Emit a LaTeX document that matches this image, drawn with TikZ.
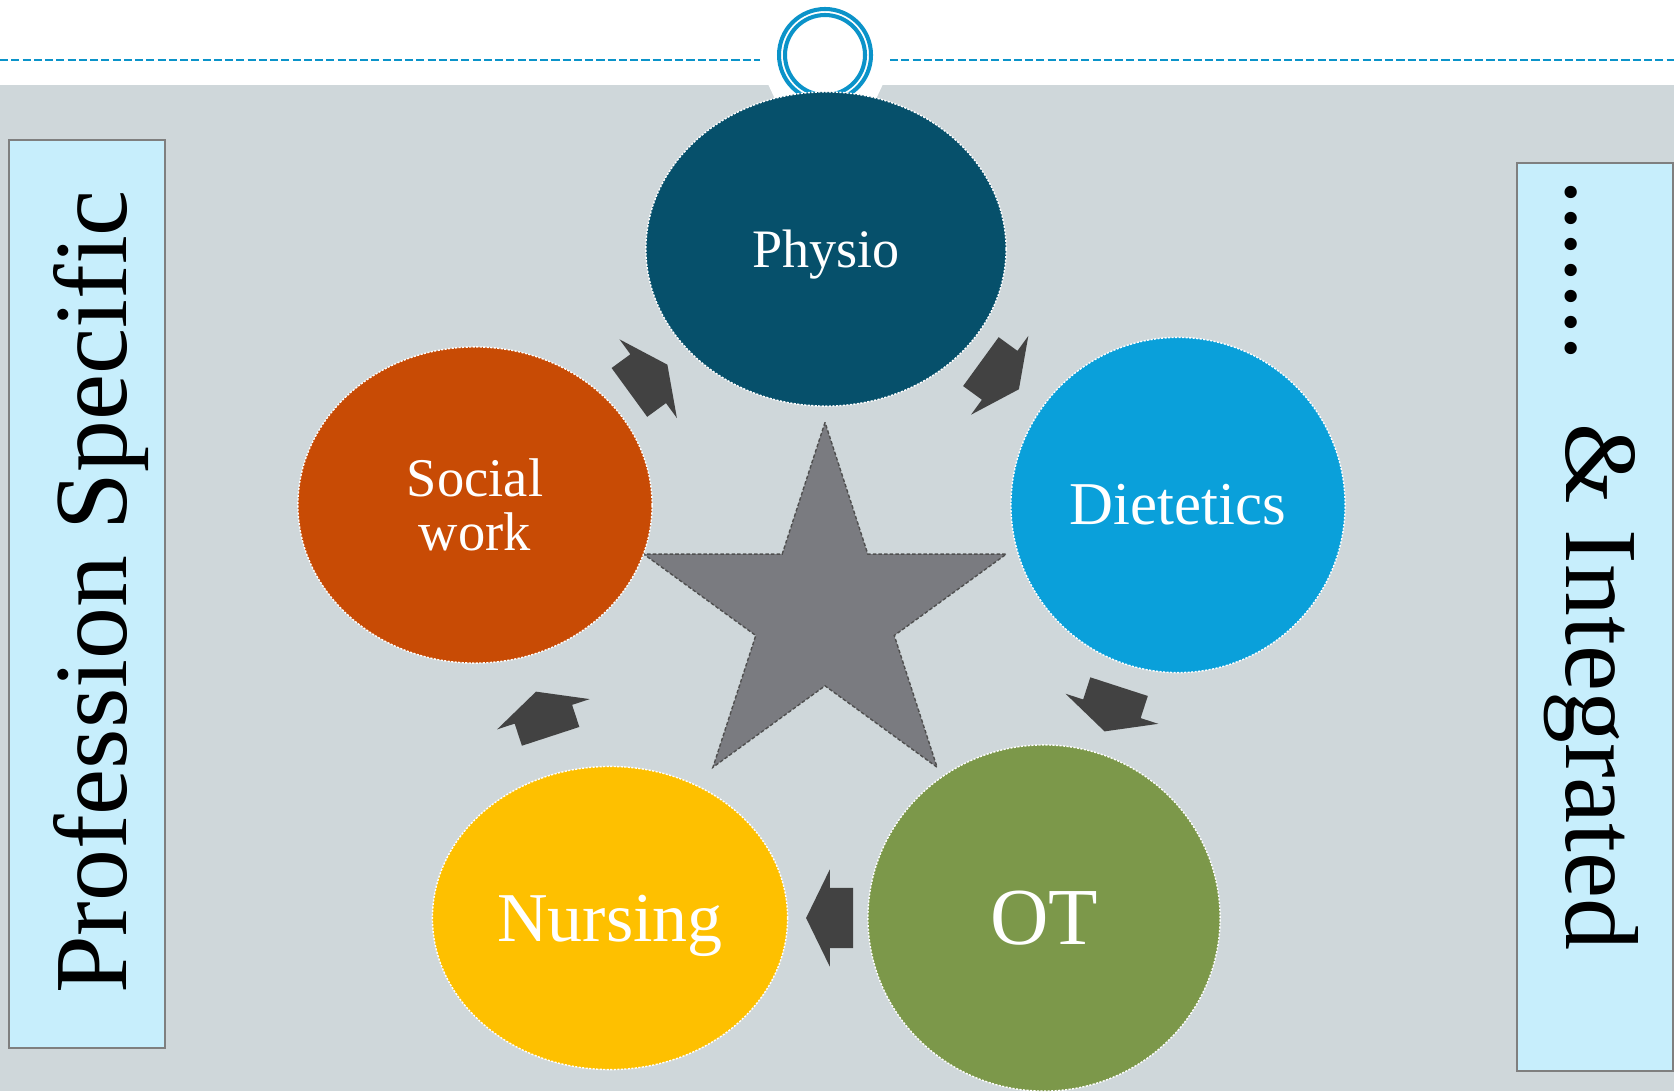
\documentclass[tikz,border=0pt]{standalone}
\usepackage{fontspec}
\setmainfont{Liberation Serif}
\usetikzlibrary{shapes.geometric,shapes.arrows}

\definecolor{bggray}{HTML}{CFD7DA}
\definecolor{ringblue}{HTML}{0B93C9}
\definecolor{boxcyan}{HTML}{C7EEFC}
\definecolor{boxedge}{HTML}{7F7F7F}
\definecolor{arrowgray}{HTML}{424242}
\definecolor{stargray}{HTML}{7A7B80}
\definecolor{staredge}{HTML}{4F4F4F}
\definecolor{physiocol}{HTML}{06506B}
\definecolor{dietcol}{HTML}{0AA0DA}
\definecolor{otcol}{HTML}{7C984A}
\definecolor{nursingcol}{HTML}{FEC000}
\definecolor{socialcol}{HTML}{C84B05}

\tikzset{
  team/.style={ellipse, inner sep=0pt, draw=white, line width=0.4pt, dash pattern=on 0.6pt off 0.4pt, text=white, align=center},
  flow/.style={single arrow, fill=arrowgray, inner sep=0pt, text height=0.295cm, text depth=0.295cm, minimum height=0.47cm, single arrow head extend=0.185cm, single arrow tip angle=128, pos=0.477, sloped, allow upside down},
  sidebox/.style={fill=boxcyan, draw=boxedge, line width=0.5pt, inner sep=0pt, minimum width=1.56cm, minimum height=9.08cm},
  sidetext/.style={anchor=base, inner sep=0pt, font=\fontsize{29.5}{34}\selectfont},
  topline/.style={ringblue, line width=0.5pt, dash pattern=on 2.3pt off 0.9pt},
}

\begin{document}
\begin{tikzpicture}[x=0.01cm, y=-0.01cm]
    \useasboundingbox[fill=white] (0,0) rectangle (1674,1091);
    \fill[bggray] (0,85) rectangle (1674,1091);
    \fill[white] (768,84) -- (883,84) -- (869,114) -- (782,114) -- cycle;
    \draw[topline] (0,60) -- (760,60);
    \draw[topline] (890,60) -- (1674,60);
    \draw[ringblue, line width=1.15pt] (825,55) circle (46);
    \draw[ringblue, line width=1.15pt] (825,55) circle (40);

    \node[sidebox] (leftbox) at (87,594) {};
    \node[sidebox] (rightbox) at (1595,617) {};
    \node[sidetext, rotate=90] (proftext) at (126,592) {Profession Specific};
    \node[sidetext, rotate=-90] (integtext) at (1566,565) {.......\hspace{0.6em}\& Integrated};

    \node[star, star points=5, star point ratio=2.618, minimum size=3.81cm, inner sep=0pt, fill=stargray, draw=staredge, line width=0.4pt, dash pattern=on 1pt off 0.6pt] (hub) at (825,613) {};

    \node[team, fill=physiocol, minimum width=3.6cm, minimum height=3.14cm, text depth=0pt, font=\fontsize{15.4}{18}\selectfont] (physio) at (826,249) {Physio};
    \node[team, fill=dietcol, minimum width=3.34cm, minimum height=3.35cm, font=\fontsize{17.3}{20}\selectfont] (diet) at (1178,505) {Dietetics};
    \node[team, fill=otcol, minimum width=3.52cm, minimum height=3.46cm, font=\fontsize{23}{28}\selectfont] (ot) at (1044,918) {OT};
    \node[team, fill=nursingcol, minimum width=3.55cm, minimum height=3.03cm, text depth=0pt, font=\fontsize{19.9}{23}\selectfont] (nursing) at (610,918) {Nursing};
    \node[team, fill=socialcol, minimum width=3.54cm, minimum height=3.16cm, font=\fontsize{15.5}{15.5}\selectfont] (social) at (475,505) {Social\\work};

    \path (physio.center) -- node[flow] (a1) {} (diet.center);
    \path (diet.center) -- node[flow] (a2) {} (ot.center);
    \path (ot.center) -- node[flow] (a3) {} (nursing.center);
    \path (nursing.center) -- node[flow] (a4) {} (social.center);
    \path (social.center) -- node[flow] (a5) {} (physio.center);
\end{tikzpicture}
\end{document}
